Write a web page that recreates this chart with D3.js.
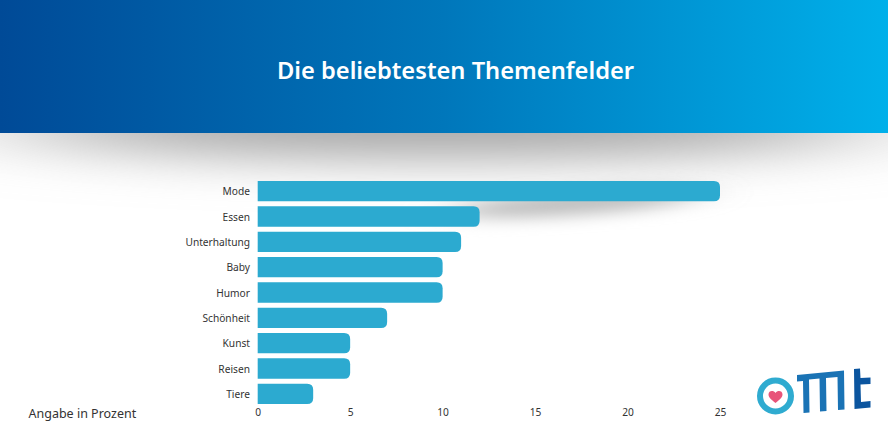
<!DOCTYPE html>
<html>
<head>
<meta charset="utf-8">
<script src="https://cdn.jsdelivr.net/npm/d3@7"></script>
<style>
html, body { margin: 0; padding: 0; background: #fff; }
svg { display: block; font-family: "Noto Sans", sans-serif; }
</style>
</head>
<body>
<svg width="888" height="444"></svg>
<script>
var categories = ['Mode', 'Essen', 'Unterhaltung', 'Baby', 'Humor', 'Schönheit', 'Kunst', 'Reisen', 'Tiere']
var values = [25, 12, 11, 10, 10, 7, 5, 5, 3]
var ticks = [0, 5, 10, 15, 20, 25]

var title = 'Die beliebtesten Themenfelder'
var note = 'Angabe in Prozent'

var svg = d3.select('svg')
var defs = svg.append('defs')

// header gradient
var grad = defs.append('linearGradient').attr('id', 'head')
grad.append('stop').attr('offset', '0%').attr('stop-color', '#004a97')
grad.append('stop').attr('offset', '50%').attr('stop-color', '#0077bb')
grad.append('stop').attr('offset', '100%').attr('stop-color', '#00b0ea')

defs.append('filter').attr('id', 'blur1')
  .attr('filterUnits', 'userSpaceOnUse')
  .attr('x', -300).attr('y', 0).attr('width', 1500).attr('height', 400)
  .append('feGaussianBlur').attr('stdDeviation', '90 24')

defs.append('filter').attr('id', 'blur2')
  .attr('filterUnits', 'userSpaceOnUse')
  .attr('x', 300).attr('y', 120).attr('width', 600).attr('height', 180)
  .append('feGaussianBlur').attr('stdDeviation', '25 8')

// soft shadow below the header
svg.append('ellipse')
  .attr('cx', 440).attr('cy', 124).attr('rx', 440).attr('ry', 34)
  .attr('fill', '#a3a3a3')
  .attr('filter', 'url(#blur1)')

// shadow under the top bar
svg.append('ellipse')
  .attr('cx', 575).attr('cy', 203).attr('rx', 125).attr('ry', 12)
  .attr('transform', 'rotate(-4 575 203)')
  .attr('fill', '#bdbdbd')
  .attr('filter', 'url(#blur2)')

svg.append('rect')
  .attr('width', 888).attr('height', 133)
  .attr('fill', 'url(#head)')

svg.append('text')
  .attr('x', 455.5).attr('y', 79)
  .attr('text-anchor', 'middle')
  .attr('fill', '#fff')
  .attr('font-size', 23.7)
  .attr('font-weight', 600)
  .text(title)

var xScale = d3.scaleLinear()
  .domain([0, 25])
  .range([257.7, 720])

var yScale = d3.scaleBand()
  .domain(categories)
  .range([178.5, 406.5])
  .paddingInner(0.2)
  .paddingOuter(0.1)

// square on the left, rounded on the right
function barPath(d, i) {
  var x0 = xScale(0), x1 = xScale(d)
  var y0 = yScale(categories[i]), h = yScale.bandwidth(), r = 6
  return `M${x0},${y0}H${x1 - r}Q${x1},${y0} ${x1},${y0 + r}V${y0 + h - r}Q${x1},${y0 + h} ${x1 - r},${y0 + h}H${x0}Z`
}

svg.append('g')
  .selectAll('path')
  .data(values)
  .enter()
    .append('path')
    .attr('d', barPath)
    .style('fill', '#2caad0')

svg.append('g')
  .selectAll('text')
  .data(categories)
  .enter()
    .append('text')
    .attr('x', 250)
    .attr('y', d => yScale(d) + yScale.bandwidth() / 2 + 4)
    .attr('text-anchor', 'end')
    .attr('font-size', 10.2)
    .attr('fill', '#333')
    .text(d => d)

var xAxis = d3.axisBottom(xScale)
  .tickValues(ticks)
  .tickSize(0)
  .tickPadding(0)

var axisG = svg.append('g')
  .attr('transform', 'translate(0, 409)')
  .call(xAxis)
axisG.select('.domain').remove()
axisG.selectAll('text')
  .attr('font-family', '"Noto Sans", sans-serif')
  .attr('font-size', 10.2)
  .attr('fill', '#333')

svg.append('text')
  .attr('x', 28.5).attr('y', 418)
  .attr('font-size', 12.5)
  .attr('fill', '#333')
  .text(note)

// logo
var logo = svg.append('g')
logo.append('circle')
  .attr('cx', 775.5).attr('cy', 396).attr('r', 15.5)
  .attr('fill', 'none').attr('stroke', '#2fabd0').attr('stroke-width', 6)
logo.append('path')
  .attr('d', 'M775.5,403 C771,399.5 768.5,397.5 768.5,394.5 C768.5,390.5 773.5,390 775.5,393 C777.5,390 782.5,390.5 782.5,394.5 C782.5,397.5 780,399.5 775.5,403Z')
  .attr('fill', '#e8557a')
logo.append('path')
  .attr('d', 'M797,375 L844,370.5 L844.5,409.5 L838,410 L837.5,377 L826,378 L826.5,411 L820,411.5 L819.5,378.5 L809,379.5 L809.5,412.5 L803.5,413 L803,381 L797,381.5Z')
  .attr('fill', '#1a73b5')
logo.append('path')
  .attr('d', 'M854,369 L860,368.5 L860.5,378 L870.5,377.5 L870.5,384 L860.5,384.5 L861,402 L870.5,401 L870.5,407.5 L854.5,409Z')
  .attr('fill', '#0b559f')
</script>
</body>
</html>
